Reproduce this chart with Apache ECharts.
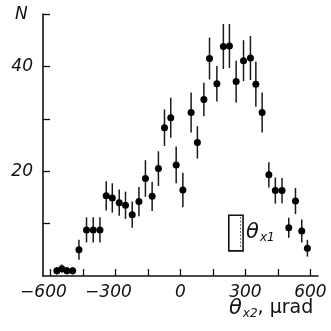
<!DOCTYPE html>
<html>
<head>
<meta charset="utf-8">
<script src="https://cdn.jsdelivr.net/npm/echarts@6/dist/echarts.min.js"></script>
<style>
  html, body { margin: 0; padding: 0; background: #fff; }
  #chart1 { width: 331px; height: 331px; }
</style>
</head>
<body>
<div id="chart1"></div>
<script>
// bin centres (µrad), counts and error half-widths
const thetaX2 = [-571, -548, -525, -498, -469, -434, -403, -372, -343, -315,
  -283, -254, -223, -192, -162, -131, -102, -74, -45, -20,
  11, 49, 78, 108, 134, 168, 198, 226, 257, 291,
  323, 348, 377, 408, 438, 469, 500, 531, 560, 586];
const counts = [1.0, 1.4, 1.0, 1.0, 5.0, 8.8, 8.8, 8.8, 15.3, 14.9,
  14.0, 13.5, 11.7, 14.2, 18.6, 15.2, 20.5, 28.3, 30.2, 21.2,
  16.4, 31.2, 25.5, 33.7, 41.5, 36.7, 43.8, 43.9, 37.1, 41.1,
  41.6, 36.6, 31.2, 19.3, 16.3, 16.3, 9.2, 14.3, 8.6, 5.3];
const errors = [0.7, 0.8, 0.7, 0.7, 1.9, 2.4, 2.4, 2.4, 2.8, 2.8,
  2.5, 2.6, 2.5, 2.8, 3.5, 2.8, 3.3, 3.5, 3.8, 3.5,
  3.3, 3.8, 3.1, 3.2, 4.0, 3.4, 4.3, 4.2, 4.0, 3.9,
  4.2, 4.3, 3.8, 2.4, 2.5, 2.4, 1.9, 2.5, 2.2, 1.6];

const xTicks = [-600, -450, -300, -150, 0, 150, 300, 450, 600];
const xLabels = [-600, -300, 0, 300, 600];
const yTicks = [10, 20, 30, 40, 50];
const yLabels = [20, 40];

// resolution box (theta_x1): [x1, y1, x2, y2] in data units
const boxRange = [223, 4.8, 289, 11.6];

const labelFont = "DejaVu Sans";

const getOption = () => {
  const points = thetaX2.map((x, i) => [x, counts[i]]);
  const bars = thetaX2.map((x, i) => [x, counts[i] - errors[i], counts[i] + errors[i]]);

  return {
    animation: false,
    grid: { left: 43, right: 13, top: 14, bottom: 55 },
    xAxis: {
      type: "value",
      min: -635,
      max: 635,
      axisLine: { onZero: false, lineStyle: { color: "#111", width: 1.6 } },
      axisTick: { inside: true, length: 7, customValues: xTicks, lineStyle: { color: "#111", width: 1.3 } },
      splitLine: { show: false },
      axisLabel: {
        customValues: xLabels,
        margin: 8,
        fontFamily: labelFont,
        fontStyle: "italic",
        fontSize: 17,
        color: "#111",
        formatter: (v) => (v < 0 ? "\u2212" + Math.abs(v) + "{h|\u2212}" : String(v)),
        rich: { h: { color: "rgba(0,0,0,0)", fontSize: 17, fontFamily: labelFont, fontStyle: "italic" } },
      },
    },
    yAxis: {
      type: "value",
      min: 0,
      max: 50,
      axisLine: { show: true, onZero: false, lineStyle: { color: "#111", width: 1.6 } },
      axisTick: { show: true, inside: true, length: 7, customValues: yTicks, lineStyle: { color: "#111", width: 1.3 } },
      splitLine: { show: false },
      axisLabel: {
        customValues: yLabels,
        margin: 10,
        fontFamily: labelFont,
        fontStyle: "italic",
        fontSize: 17,
        color: "#111",
      },
    },
    series: [
      {
        type: "custom",
        data: bars,
        renderItem: (params, api) => {
          const lo = api.coord([api.value(0), api.value(1)]);
          const hi = api.coord([api.value(0), api.value(2)]);
          return {
            type: "line",
            shape: { x1: lo[0], y1: lo[1], x2: hi[0], y2: hi[1] },
            style: { stroke: "#1a1a1a", lineWidth: 1.5 },
          };
        },
        z: 2,
      },
      {
        type: "scatter",
        data: points,
        symbol: "circle",
        symbolSize: 7,
        itemStyle: { color: "#000", opacity: 1 },
        z: 3,
      },
      {
        type: "custom",
        data: [boxRange],
        renderItem: (params, api) => {
          const a = api.coord([api.value(0), api.value(1)]);
          const b = api.coord([api.value(2), api.value(3)]);
          const x = Math.min(a[0], b[0]);
          const y = Math.min(a[1], b[1]);
          const w = Math.abs(b[0] - a[0]);
          const h = Math.abs(b[1] - a[1]);
          return {
            type: "group",
            children: [
              {
                type: "rect",
                shape: { x: x, y: y, width: w, height: h },
                style: { fill: "none", stroke: "#111", lineWidth: 1.6 },
              },
              {
                type: "line",
                shape: { x1: x + w - 2.5, y1: y + 2, x2: x + w - 2.5, y2: y + h - 2 },
                style: { stroke: "#333", lineWidth: 1, lineDash: [1.5, 2] },
              },
              {
                type: "text",
                x: x + w + 3,
                y: y + h / 2,
                style: {
                  text: "{t|\u03b8}{s|x1}",
                  verticalAlign: "middle",
                  rich: {
                    t: { fontFamily: labelFont, fontStyle: "italic", fontSize: 21, fill: "#111" },
                    s: { fontFamily: labelFont, fontStyle: "italic", fontSize: 12, fill: "#111", padding: [10, 0, 0, 1] },
                  },
                },
              },
            ],
          };
        },
        z: 2,
      },
    ],
    graphic: [
      {
        type: "text",
        left: 15,
        top: 6,
        style: { text: "N", fontFamily: labelFont, fontStyle: "italic", fontSize: 17, fill: "#111" },
      },
      {
        type: "text",
        left: 229,
        top: 298,
        style: {
          text: "{t|\u03b8}{s|x2}{r|, \u03bcrad}",
          rich: {
            t: { fontFamily: labelFont, fontStyle: "italic", fontSize: 21, fill: "#111" },
            s: { fontFamily: labelFont, fontStyle: "italic", fontSize: 12, fill: "#111", padding: [10, 0, 0, 1] },
            r: { fontFamily: "DejaVu Sans", fontSize: 19, fill: "#111" },
          },
        },
      },
    ],
  };
};

const initCharts = () => {
  const chart1 = echarts.init(document.getElementById("chart1"));
  chart1.setOption(getOption());
};

window.addEventListener("load", () => {
  initCharts();
});
</script>
</body>
</html>
